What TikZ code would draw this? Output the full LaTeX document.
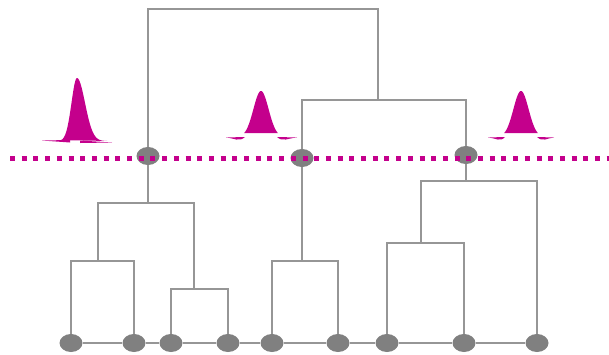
\documentclass[tikz,border=0pt]{standalone}
\usepackage{tikz}
\usepackage{xcolor}
\usetikzlibrary{shapes.geometric}
\definecolor{magenta}{RGB}{196,0,140}
\definecolor{cinza}{RGB}{150,150,150}
\definecolor{cinzaescuro}{RGB}{128,128,128}
\tikzstyle{folha} = [ellipse, minimum width=23pt, minimum height=18pt, inner sep=0pt, fill=cinzaescuro]
\tikzstyle{corte} = [ellipse, minimum width=23pt, minimum height=18pt, inner sep=0pt, fill=cinzaescuro]
\tikzstyle{ligacao} = [draw=cinza, line width=1.1pt]
\tikzstyle{pontilhado} = [draw=magenta, line width=5pt, dash pattern=on 5pt off 6.7pt]
\tikzstyle{sino} = [fill=magenta]

\begin{document}
\begin{tikzpicture}[x=1pt,y=-1pt]
        \useasboundingbox (0,0) rectangle (609,354);
        % Folhas
        \node (L1) [folha] at (71,343) {};
        \node (L2) [folha] at (134,343) {};
        \node (L3) [folha] at (171,343) {};
        \node (L4) [folha] at (228,343) {};
        \node (L5) [folha] at (272,343) {};
        \node (L6) [folha] at (338,343) {};
        \node (L7) [folha] at (387,343) {};
        \node (L8) [folha] at (464,343) {};
        \node (L9) [folha] at (537,343) {};
        % Pontos de corte
        \node (C1) [corte] at (148,156) {};
        \node (C2) [corte] at (302,158) {};
        \node (C3) [corte] at (466,155) {};
        % Pontos de junção
        \coordinate (mA) at (98,261);
        \coordinate (mB) at (194,289);
        \coordinate (mAB) at (148,203);
        \coordinate (mC) at (302,261);
        \coordinate (mD) at (421,243);
        \coordinate (mDE) at (466,181);
        \coordinate (mCF) at (378,100);
        \coordinate (mTopo) at (260,9);
        % Linha de base
        \draw [ligacao] (L1) -- (L2) -- (L3) -- (L4) -- (L5) -- (L6) -- (L7) -- (L8) -- (L9);
        % Dendrograma
        \draw [ligacao] (L1) |- (mA) -| (L2);
        \draw [ligacao] (L3) |- (mB) -| (L4);
        \draw [ligacao] (mA) |- (mAB) -| (mB);
        \draw [ligacao] (mAB) -- (C1);
        \draw [ligacao] (L5) |- (mC) -| (L6);
        \draw [ligacao] (mC) -- (C2);
        \draw [ligacao] (L7) |- (mD) -| (L8);
        \draw [ligacao] (mD) |- (mDE) -| (L9);
        \draw [ligacao] (mDE) -- (C3);
        \draw [ligacao] (C2) |- (mCF) -| (C3);
        \draw [ligacao] (C1) |- (mTopo) -| (mCF);
        % Gaussianas
        \fill [sino] plot[domain=-16:0, samples=40] ({77+\x},{141-63*exp(-(\x/5.5)^2/2)})
            -- plot[domain=0:30, samples=60] ({77+\x},{141-63*exp(-(\x/8)^2/2)}) -- cycle;
        \fill [sino] (42,140.5) -- (70,140) -- (70,142.5) -- cycle;
        \fill [sino] (80,140.5) -- (112,142.5) -- (80,143) -- cycle;
        \fill [sino] plot[domain=-17:17, samples=60] ({261+\x},{137-46*exp(-(\x/7.6)^2/2)}) -- cycle;
        \fill [sino] (226,137.5) .. controls (234,138) and (239,142.5) .. (245,137) -- cycle;
        \fill [sino] (277,137) .. controls (283,142.5) and (288,138) .. (297,137.5) -- cycle;
        \fill [sino] plot[domain=-17:17, samples=60] ({521+\x},{137-46*exp(-(\x/7.6)^2/2)}) -- cycle;
        \fill [sino] (488,137.5) .. controls (496,138) and (500,142.5) .. (505,137) -- cycle;
        \fill [sino] (537,137) .. controls (543,142.5) and (547,138) .. (554,137.5) -- cycle;
        % Linha de corte
        \coordinate (cortE) at (10,158);
        \coordinate (cortD) at (609,158);
        \draw [pontilhado] (cortE) -- (cortD);
    \end{tikzpicture}
\end{document}
